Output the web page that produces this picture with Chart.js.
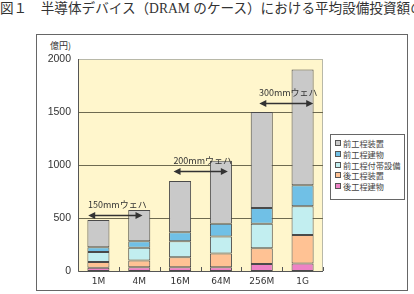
<!DOCTYPE html>
<html>
<head>
<meta charset="utf-8">
<script src="https://cdn.jsdelivr.net/npm/chart.js@4/dist/chart.umd.min.js"></script>
<style>
  body { margin: 0; background: #fff; }
  #wrap { position: relative; width: 414px; height: 294px; overflow: hidden; font-family: "Noto Sans CJK JP", sans-serif; }
  #title { position: absolute; left: 0; top: 0; white-space: nowrap; font-family: "Liberation Serif", "Noto Sans CJK JP", serif; font-size: 13.6px; color: #333; line-height: 18px; }
  #frame { position: absolute; left: 36px; top: 34px; width: 370px; height: 255px; border: 1px solid #666; }
  #unit { position: absolute; left: 50px; top: 39px; font-size: 9px; color: #333; }
  #legend { position: absolute; left: 330px; top: 134px; width: 73px; height: 64px; border: 1px solid #666; background: #fff; }
  .item { position: absolute; left: 4px; font-size: 8.2px; line-height: 11px; color: #444; white-space: nowrap; }
  .item i { display: inline-block; width: 4px; height: 4px; border: 1px solid #555; margin-right: 2px; vertical-align: 1px; }
  canvas { position: absolute; left: 0; top: 0; }
</style>
</head>
<body>
<div id="wrap">
  <div id="title">図１　半導体デバイス（DRAM のケース）における平均設備投資額の推移</div>
  <div id="frame"></div>
  <div id="unit">億円)</div>
  <canvas id="chartBar" width="414" height="294"></canvas>
  <div id="legend"></div>
</div>
<script>
const labels = ["1M", "4M", "16M", "64M", "256M", "1G"]

// stacked bottom to top
const backBuilding = [30, 35, 35, 35, 65, 70]        // 後工程建物
const backEquipment = [55, 65, 95, 130, 150, 270]    // 後工程装置
const frontUtility = [95, 120, 150, 160, 230, 270]   // 前工程付帯設備
const frontBuilding = [45, 60, 85, 120, 150, 200]    // 前工程建物
const frontEquipment = [255, 295, 485, 595, 905, 1090] // 前工程装置

const yTicks = [0, 500, 1000, 1500, 2000]

const waferLabels = ["150mmウェハ", "200mmウェハ", "300mmウェハ"]
const waferFrom = [-0.25, 1.84, 3.94]
const waferTo = [1.08, 3.17, 5.26]
const waferLevel = [530, 940, 1585]

const seriesNames = ["後工程建物", "後工程装置", "前工程付帯設備", "前工程建物", "前工程装置"]
const seriesValues = [backBuilding, backEquipment, frontUtility, frontBuilding, frontEquipment]
const seriesColors = ["#EE82C6", "#FFC294", "#C2EEF0", "#70C0E6", "#C9C9C9"]

const datasets = seriesNames.map((name, i) => ({
  label: name,
  data: seriesValues[i],
  backgroundColor: seriesColors[i],
  borderColor: "#4a4a4a",
  borderWidth: 1,
  borderSkipped: false,
  barPercentage: 0.54,
  categoryPercentage: 1
}))

const plotDecor = {
  id: "plotDecor",
  beforeDatasetsDraw(chart) {
    const { ctx, chartArea: a } = chart
    ctx.save()
    ctx.fillStyle = "#FFF6CC"
    ctx.fillRect(a.left, a.top, a.right - a.left, a.bottom - a.top)
    ctx.strokeStyle = "#b8b8a8"
    ctx.lineWidth = 1
    ctx.strokeRect(a.left + 0.5, a.top + 0.5, a.right - a.left - 1, a.bottom - a.top)
    // grid lines
    const y = chart.scales.y
    ctx.strokeStyle = "#6e6a50"
    yTicks.slice(1, -1).forEach(v => {
      const py = Math.round(y.getPixelForValue(v)) + 0.5
      ctx.beginPath()
      ctx.moveTo(a.left, py)
      ctx.lineTo(a.right, py)
      ctx.stroke()
    })
    ctx.restore()
  },
  afterDatasetsDraw(chart) {
    const { ctx, chartArea: a } = chart
    const xs = chart.scales.x
    const ys = chart.scales.y
    ctx.save()
    // axes
    ctx.strokeStyle = "#555"
    ctx.lineWidth = 1
    ctx.beginPath()
    ctx.moveTo(a.left + 0.5, a.top)
    ctx.lineTo(a.left + 0.5, a.bottom + 0.5)
    ctx.lineTo(a.right, a.bottom + 0.5)
    ctx.stroke()
    for (let i = 0; i <= labels.length; i++) {
      const px = Math.round(xs.getPixelForValue(i - 0.5)) + 0.5
      ctx.beginPath()
      ctx.moveTo(px, a.bottom)
      ctx.lineTo(px, a.bottom - 4)
      ctx.stroke()
    }
    // wafer arrows
    ctx.strokeStyle = "#333"
    ctx.fillStyle = "#333"
    ctx.lineWidth = 1.6
    ctx.font = "9px 'Noto Sans CJK JP'"
    ctx.textAlign = "center"
    ctx.textBaseline = "alphabetic"
    for (let i = 0; i < waferLabels.length; i++) {
      const x1 = xs.getPixelForValue(waferFrom[i])
      const x2 = xs.getPixelForValue(waferTo[i])
      const py = Math.round(ys.getPixelForValue(waferLevel[i])) + 0.5
      ctx.beginPath()
      ctx.moveTo(x1 + 4, py)
      ctx.lineTo(x2 - 4, py)
      ctx.stroke()
      ctx.beginPath()
      ctx.moveTo(x1, py); ctx.lineTo(x1 + 7, py - 3.5); ctx.lineTo(x1 + 7, py + 3.5); ctx.closePath()
      ctx.moveTo(x2, py); ctx.lineTo(x2 - 7, py - 3.5); ctx.lineTo(x2 - 7, py + 3.5); ctx.closePath()
      ctx.fill()
      ctx.fillText(waferLabels[i], (x1 + x2) / 2 + 2, py - 8)
    }
    ctx.restore()
  }
}

const chart = new Chart(document.getElementById("chartBar"), {
  type: "bar",
  data: { labels, datasets },
  options: {
    responsive: false,
    animation: false,
    layout: { padding: { left: 38, right: 91, top: 59, bottom: 2 } },
    scales: {
      x: {
        stacked: true,
        grid: { display: false, drawTicks: false },
        border: { display: false },
        ticks: { color: "#333", font: { size: 9, family: "DejaVu Sans" }, padding: 5, maxRotation: 0 },
        afterFit(scale) { scale.height = 21 }
      },
      y: {
        stacked: true,
        min: 0,
        max: 2000,
        grid: { display: false, drawTicks: false },
        border: { display: false },
        afterBuildTicks(scale) { scale.ticks = yTicks.map(v => ({ value: v })) },
        ticks: { color: "#333", font: { size: 10.5, family: "Liberation Sans" }, padding: 7, callback: v => String(v) },
        afterFit(scale) { scale.width = 40 }
      }
    },
    plugins: {
      legend: { display: false },
      tooltip: { enabled: false }
    }
  },
  plugins: [plotDecor]
})

// legend, top item = top of stack
const legend = document.getElementById("legend")
datasets.slice().reverse().forEach((d, i) => {
  const el = document.createElement("div")
  el.className = "item"
  el.style.top = (3 + i * 10.8) + "px"
  el.innerHTML = '<i style="background:' + d.backgroundColor + '"></i>' + d.label
  legend.appendChild(el)
})
</script>
</body>
</html>
